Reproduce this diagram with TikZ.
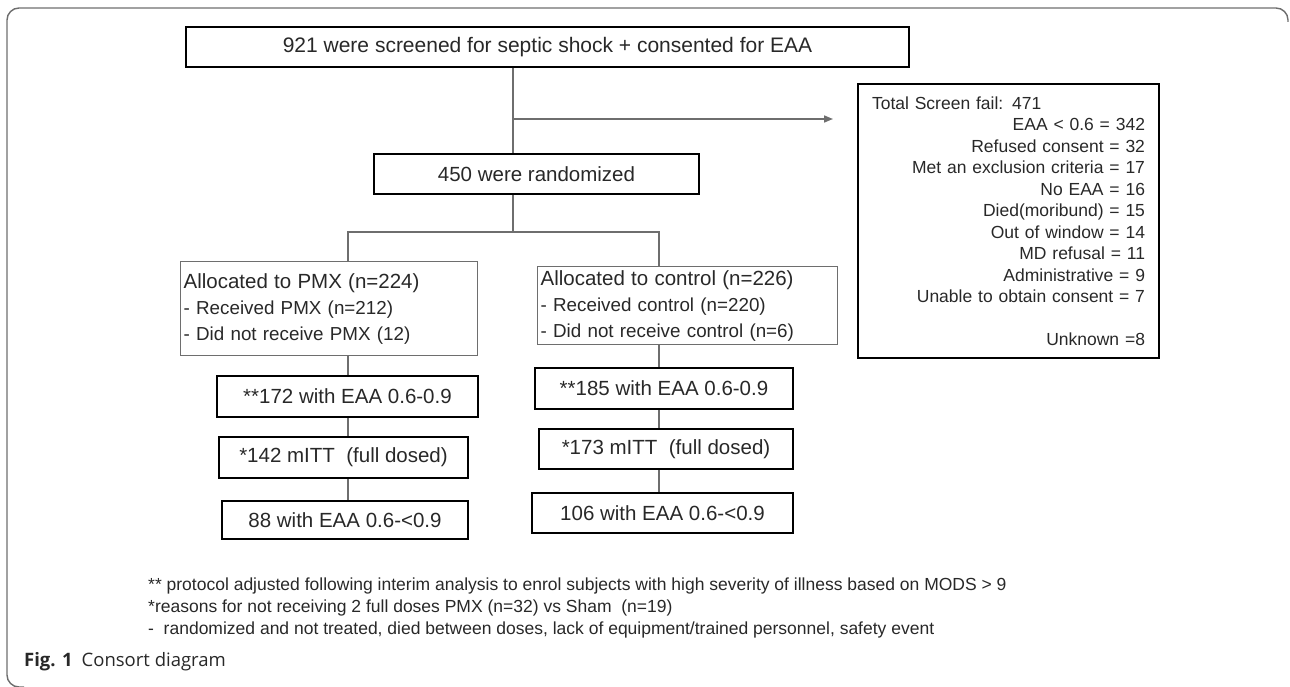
\documentclass[tikz,border=0pt]{standalone}
\usepackage{fontspec}
\setmainfont{Liberation Sans}
\newfontfamily\capfont{Open Sans}
\usetikzlibrary{arrows.meta}

\definecolor{inkgray}{RGB}{40,40,40}
\definecolor{linkgray}{RGB}{110,110,110}
\tikzset{
  stage/.style={draw=black, line width=2pt, inner sep=0pt, anchor=north west,
    text=inkgray, font=\fontsize{20.5}{24}\selectfont},
  arm/.style={draw=linkgray, line width=1.2pt, inner sep=0pt, anchor=north west,
    text=inkgray, align=left, font=\fontsize{18.8}{26}\selectfont},
  link/.style={draw=linkgray, line width=1.6pt},
}

\begin{document}
\begin{tikzpicture}[x=1pt,y=-1pt]
  \useasboundingbox (0,0) rectangle (1290,687);
  % outer frame
  \draw [linkgray, line width=1.4pt, rounded corners=12pt]
    (1288,22) -- (1288,8) -- (7,8) -- (7,687) -- (24,687);

  % screening and randomisation
  \node [stage, minimum width=723pt, minimum height=40pt,
    font=\fontsize{21}{24}\selectfont] (screen) at (185,26)
    {921 were screened for septic shock + consented for EAA};
  \node [stage, minimum width=325pt, minimum height=40pt] (rand) at (373,153)
    {450 were randomized};
  \node [stage, minimum width=301pt, minimum height=274pt, align=right,
    text width=273pt, font=\fontsize{17.5}{21.5}\selectfont] (fail) at (857,83)
    {Total Screen fail: 471\hfill\null\\
     EAA < 0.6 = 342\\
     Refused consent = 32\\
     Met an exclusion criteria = 17\\
     No EAA = 16\\
     Died(moribund) = 15\\
     Out of window = 14\\
     MD refusal = 11\\
     Administrative = 9\\
     Unable to obtain consent = 7\\
     \strut\\
     Unknown =8};

  % arms
  \node [arm, minimum width=297pt, minimum height=94pt, text width=291pt] (pmx) at (180,261)
    {{\fontsize{20.5}{26}\selectfont Allocated to PMX (n=224)}\\
     - Received PMX (n=212)\\
     - Did not receive PMX (12)};
  \node [arm, minimum width=300pt, minimum height=78pt, text width=294pt] (ctl) at (537,266)
    {{\fontsize{20.5}{26}\selectfont Allocated to control (n=226)}\\
     - Received control (n=220)\\
     - Did not receive control (n=6)};

  \node [stage, minimum width=261pt, minimum height=41pt] (pmxeaa) at (216,375) {**172 with EAA 0.6-0.9};
  \node [stage, minimum width=249pt, minimum height=41pt] (pmxitt) at (218,436) {*142 mITT\ \ (full dosed)};
  \node [stage, minimum width=246pt, minimum height=38pt] (pmxsub) at (221,500) {88 with EAA 0.6-<0.9};
  \node [stage, minimum width=258pt, minimum height=41pt] (ctleaa) at (534,367) {**185 with EAA 0.6-0.9};
  \node [stage, minimum width=254pt, minimum height=40pt] (ctlitt) at (538,428) {*173 mITT\ \ (full dosed)};
  \node [stage, minimum width=261pt, minimum height=40pt] (ctlsub) at (531,492) {106 with EAA 0.6-<0.9};

  % connectors
  \coordinate (trunk) at (513,0);
  \coordinate (out) at (513,119);
  \coordinate (failin) at (833,119);
  \coordinate (split) at (513,232);
  \coordinate (colA) at (348,0);
  \coordinate (colB) at (659,0);
  \draw [link] (screen.south -| trunk) -- (rand.north -| trunk);
  \draw [link, -{Triangle[length=9pt,width=7pt]}] (out) -- (failin);
  \draw [link] (rand.south -| trunk) -- (split);
  \draw [link] (pmx.north -| colA) -- (colA |- split) -- (colB |- split) -- (ctl.north -| colB);
  \draw [link] (pmx.south -| colA) -- (pmxeaa.north -| colA);
  \draw [link] (pmxeaa.south -| colA) -- (pmxitt.north -| colA);
  \draw [link] (pmxitt.south -| colA) -- (pmxsub.north -| colA);
  \draw [link] (ctl.south -| colB) -- (ctleaa.north -| colB);
  \draw [link] (ctleaa.south -| colB) -- (ctlitt.north -| colB);
  \draw [link] (ctlitt.south -| colB) -- (ctlsub.north -| colB);

  % footnotes and caption
  \node [anchor=north west, inner sep=0pt, align=left, text=inkgray,
    font=\fontsize{17.5}{22}\selectfont] (notes) at (148,578)
    {** protocol adjusted following interim analysis to enrol subjects with high severity of illness based on MODS > 9\\
     *reasons for not receiving 2 full doses PMX (n=32) vs Sham\ \ (n=19)\\
     -\ \ randomized and not treated, died between doses, lack of equipment/trained personnel, safety event};
  \node [anchor=west, inner sep=0pt, text=inkgray, font=\capfont\fontsize{18.5}{22}\selectfont] (caption) at (24,662)
    {\textbf{Fig. 1}\hspace{9pt}Consort diagram};
\end{tikzpicture}
\end{document}
